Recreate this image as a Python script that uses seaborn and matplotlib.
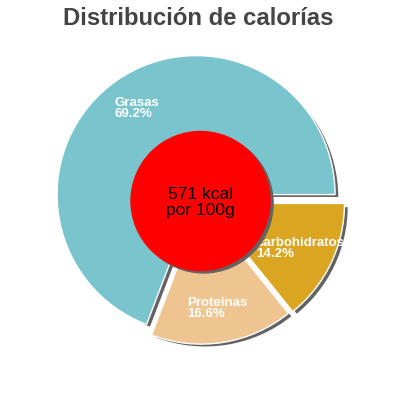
import numpy as np
import seaborn as sns
import matplotlib
matplotlib.use("Agg")
from matplotlib import pyplot as plt

# data
categorias = ["Grasas", "Proteinas", "carbohidratos"]
porcentajes = [69.2, 16.6, 14.2]
colores = ["#7AC5CD", "#EEC591", "#DAA520"]
separar = [0.056, 0.03, 0.04]
titulo = "Distribución de calorías"
centro_txt = "571 kcal\npor 100g"

sns.set_style("white")
plt.rcParams['font.family'] = ['Liberation Sans', 'DejaVu Sans']

fig = plt.figure(figsize=(4, 4), dpi=100)
ax = fig.add_axes([0, 0, 1, 1])

sombra = "#636363"
dx, dy = 0.028, -0.022

# shadow pie first, then the real one
ax.pie(porcentajes, colors=[sombra] * 3, explode=separar, startangle=0,
       counterclock=True, center=(dx, dy), radius=1.0)
wedges, texts, autotexts = ax.pie(porcentajes, colors=colores, explode=separar,
                                  startangle=0, counterclock=True,
                                  autopct='%1.1f%%', pctdistance=0.755,
                                  radius=1.0)
for t, nombre, p in zip(autotexts, categorias, porcentajes):
    t.set_text(f"{nombre}\n{p:.1f}%")
    t.set_color("white")
    t.set_fontsize(9.5)
    t.set_fontweight("bold")
    t.set_multialignment("left")
    t.set_linespacing(0.9)

# red center with its shadow
ax.add_patch(plt.Circle((dx * 0.8, dy * 0.8), 0.5, color=sombra, zorder=5))
ax.add_patch(plt.Circle((0, 0), 0.5, color="#FF0000", zorder=6))
ax.text(0.0, -0.01, centro_txt, ha="center", va="center", fontsize=12.5,
        color="black", zorder=7, linespacing=1.05)

ax.set_xlim(-200.5 / 139, 199.5 / 139)
ax.set_ylim(-199 / 139, 201 / 139)
ax.set_aspect("equal")
ax.axis("off")

fig.text(0.495, 0.982, titulo, ha="center", va="top", fontsize=17.2,
         fontweight="bold", color="#444444")

fig.savefig("out.png", dpi=100)
